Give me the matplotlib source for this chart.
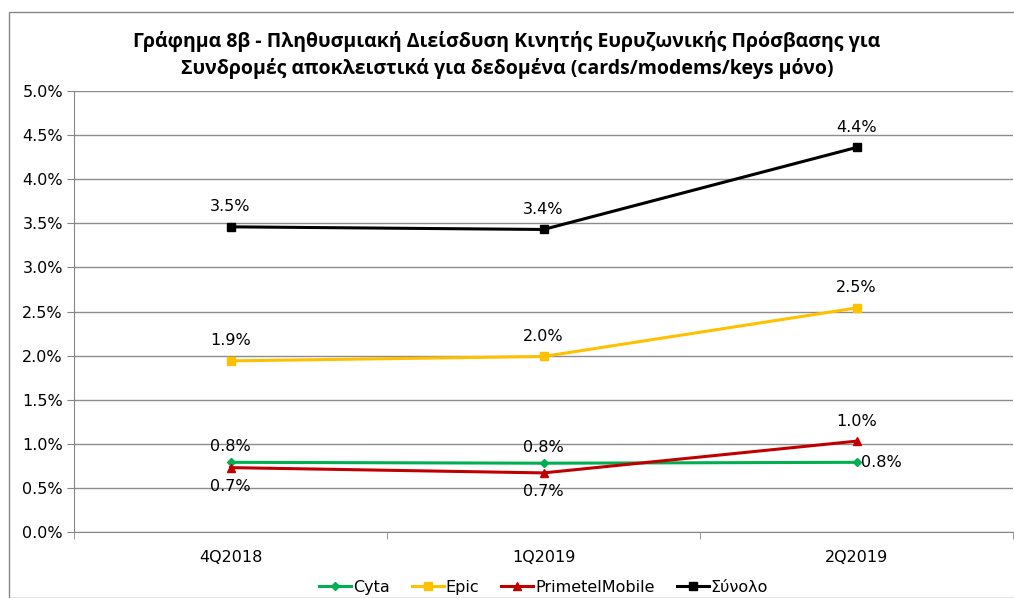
import matplotlib.pyplot as plt
from matplotlib.patches import Rectangle
from matplotlib.ticker import FuncFormatter, FixedLocator

quarters = ['4Q2018', '1Q2019', '2Q2019']
cyta = [0.79, 0.78, 0.79]
epic = [1.94, 1.99, 2.54]
primetel = [0.73, 0.67, 1.03]
total = [3.46, 3.43, 4.36]

fig = plt.figure(figsize=(10.14, 5.98), dpi=100)
ax = fig.add_axes([74 / 1014, 1 - 532 / 598, (1013 - 74) / 1014, (532 - 91) / 598])

# outer chart border
fig.patches.append(Rectangle((9 / 1014, 0.0), 1.2, 1 - 12 / 598, transform=fig.transFigure,
                             fill=False, edgecolor='#868686', linewidth=1))

x = range(len(quarters))
series = [
    ('Cyta', cyta, '#00B050', 'D', 4),
    ('Epic', epic, '#FFC000', 's', 6),
    ('PrimetelMobile', primetel, '#C00000', '^', 6),
    ('Σύνολο', total, '#000000', 's', 6),
]
for name, vals, col, mk, ms in series:
    ax.plot(x, vals, color=col, marker=mk, markersize=ms, linewidth=2.2, label=name)

fs = 11.5
# data labels
lab_font = dict(fontsize=fs, family='DejaVu Sans', ha='center')
for i, v in enumerate(total):
    ax.annotate(f'{v:.1f}%', (i, v), xytext=(0, 9), textcoords='offset points', va='bottom', **lab_font)
for i, v in enumerate(epic):
    ax.annotate(f'{v:.1f}%', (i, v), xytext=(0, 9), textcoords='offset points', va='bottom', **lab_font)
for i, v in enumerate(cyta):
    if i < 2:
        ax.annotate(f'{v:.1f}%', (i, v), xytext=(0, 6), textcoords='offset points', va='bottom', **lab_font)
    else:
        ax.annotate(f'{v:.1f}%', (i, v), xytext=(3, 0), textcoords='offset points', va='center',
                    fontsize=fs, family='DejaVu Sans', ha='left')
for i, v in enumerate(primetel):
    if i < 2:
        ax.annotate(f'{v:.1f}%', (i, v), xytext=(0, -8), textcoords='offset points', va='top', **lab_font)
    else:
        ax.annotate(f'{v:.1f}%', (i, v), xytext=(0, 9), textcoords='offset points', va='bottom', **lab_font)

ax.set_ylim(0, 5.0)
ax.set_xlim(-0.5, 2.5)
ax.set_yticks([i * 0.5 for i in range(11)])
ax.yaxis.set_major_formatter(FuncFormatter(lambda v, p: f'{v:.1f}%'))
ax.set_xticks(list(x))
ax.set_xticklabels(quarters)
ax.xaxis.set_minor_locator(FixedLocator([-0.5, 0.5, 1.5, 2.5]))
ax.tick_params(axis='x', which='major', length=0, pad=13, labelsize=fs)
ax.tick_params(axis='x', which='minor', length=5, color='#868686')
ax.tick_params(axis='y', length=5, color='#868686', labelsize=fs, pad=3)
ax.grid(axis='y', color='#8c8c8c', linewidth=1)
ax.set_axisbelow(True)
for s in ['top', 'right']:
    ax.spines[s].set_visible(False)
ax.spines['left'].set_color('#868686')
ax.spines['bottom'].set_color('#868686')

fig.text(0.5, 0.948, 'Γράφημα 8β - Πληθυσμιακή Διείσδυση Κινητής Ευρυζωνικής Πρόσβασης για\n'
         'Συνδρομές αποκλειστικά για δεδομένα (cards/modems/keys μόνο)',
         ha='center', va='top', fontsize=14, fontweight='bold', family='Open Sans',
         linespacing=1.35)

ax.legend(loc='center', bbox_to_anchor=(0.5, -0.125), ncol=4, frameon=False,
          fontsize=fs, handlelength=2.0, handletextpad=0.1, columnspacing=1.4)

fig.savefig('out.png', dpi=100)
